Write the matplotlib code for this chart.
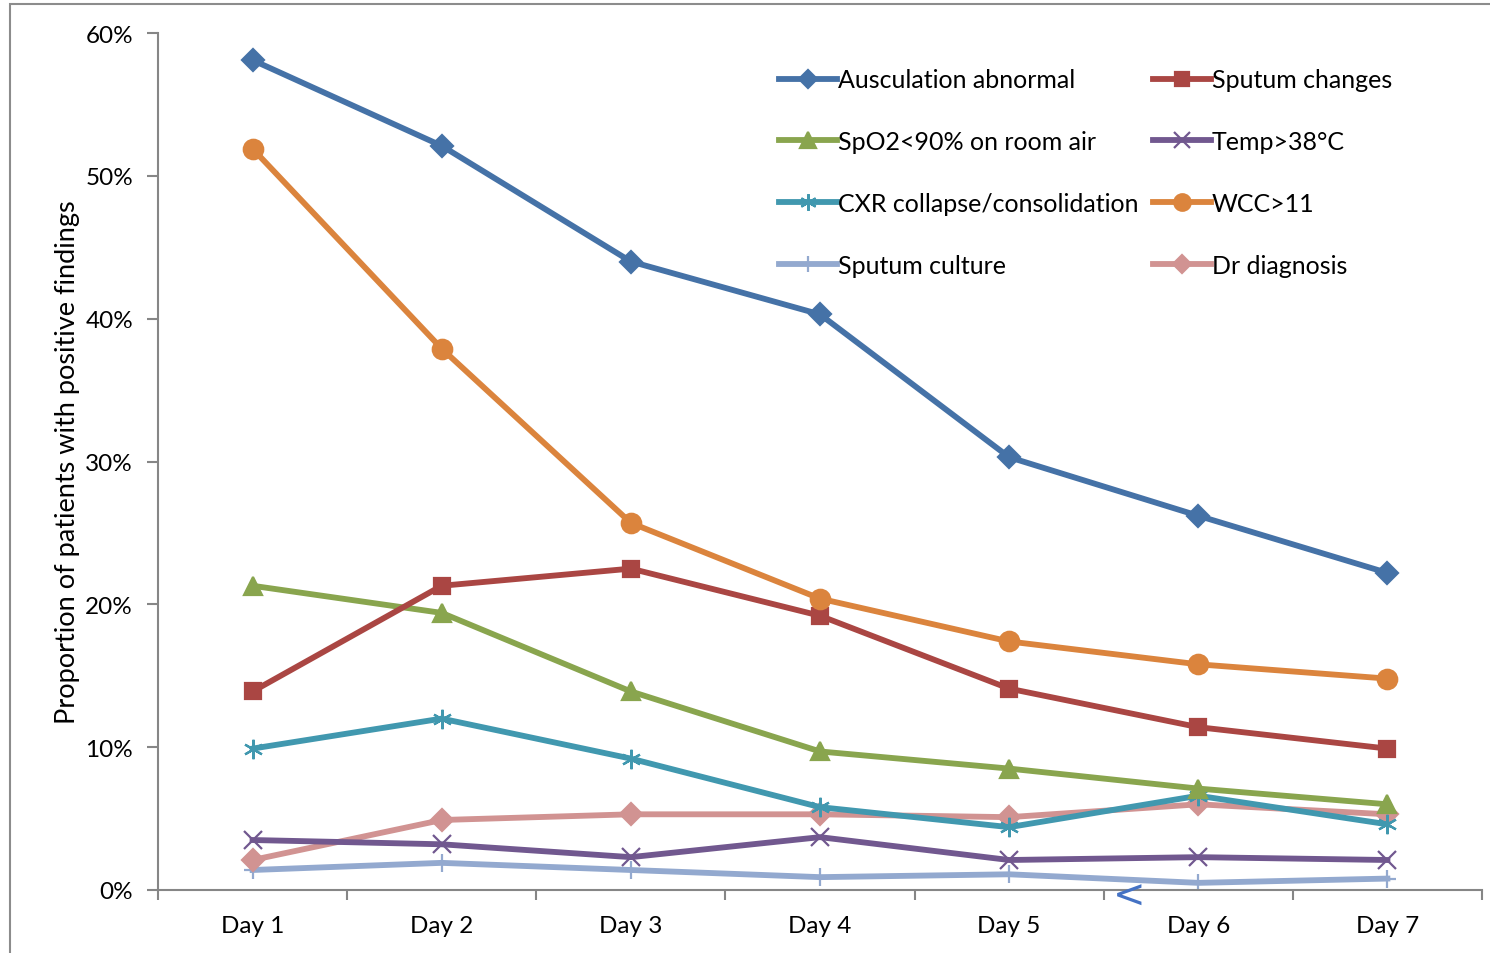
import matplotlib.pyplot as plt
from matplotlib.patches import Rectangle
from matplotlib.ticker import FixedLocator, PercentFormatter

plt.rcParams['font.family'] = ['Lato', 'DejaVu Sans']

days = ['Day 1', 'Day 2', 'Day 3', 'Day 4', 'Day 5', 'Day 6', 'Day 7']

ausculation = [58.1, 52.1, 44.0, 40.3, 30.3, 26.2, 22.2]
sputum_changes = [13.9, 21.3, 22.5, 19.2, 14.1, 11.4, 9.9]
spo2 = [21.3, 19.4, 13.9, 9.7, 8.5, 7.1, 6.0]
temp = [3.5, 3.2, 2.3, 3.7, 2.1, 2.3, 2.1]
cxr = [9.9, 12.0, 9.2, 5.8, 4.4, 6.6, 4.6]
wcc = [51.9, 37.9, 25.7, 20.4, 17.4, 15.8, 14.8]
sputum_culture = [1.4, 1.9, 1.4, 0.9, 1.1, 0.5, 0.8]
dr_diagnosis = [2.1, 4.9, 5.3, 5.3, 5.1, 6.0, 5.3]

x = list(range(1, len(days) + 1))

fig = plt.figure(figsize=(14.9, 9.54), dpi=100)
ax = fig.add_axes([158 / 1490, 63 / 954, 1324 / 1490, 857 / 954])

lw = 4.2
series = [
    (ausculation, 'Ausculation abnormal', '#4572A7', 'D', 11),
    (spo2, 'SpO2<90% on room air', '#89A54E', '^', 13),
    (cxr, 'CXR collapse/consolidation', '#4198AF', (6, 2, 0), 14),
    (sputum_culture, 'Sputum culture', '#93A9CF', '+', 13),
    (sputum_changes, 'Sputum changes', '#AA4643', 's', 12),
    (temp, 'Temp>38°C', '#71588F', 'x', 13.5),
    (wcc, 'WCC>11', '#DB843D', 'o', 14),
    (dr_diagnosis, 'Dr diagnosis', '#D19392', 'D', 11),
]

# draw the thin ones first so the heavy lines sit on top
draw_order = [3, 7, 5, 2, 1, 4, 6, 0]
handles = {}
for i in draw_order:
    vals, label, color, marker, ms = series[i]
    line, = ax.plot(x, vals, color=color, lw=lw, marker=marker, markersize=ms,
                    markeredgewidth=1.6, label=label, solid_joinstyle='round')
    handles[i] = line

ax.set_xlim(0.5, 7.5)
ax.set_ylim(0, 60)
ax.yaxis.set_major_locator(FixedLocator([0, 10, 20, 30, 40, 50, 60]))
ax.yaxis.set_major_formatter(PercentFormatter(decimals=0))
ax.set_xticks(x)
ax.set_xticklabels(days)
ax.xaxis.set_minor_locator(FixedLocator([i + 0.5 for i in range(0, 8)]))

for side in ['top', 'right']:
    ax.spines[side].set_visible(False)
for side in ['left', 'bottom']:
    ax.spines[side].set_color('#868686')
    ax.spines[side].set_linewidth(1.5)

ax.tick_params(axis='y', direction='out', length=8, width=1.5, color='#868686',
               labelsize=17.5, pad=10)
ax.tick_params(axis='x', which='major', length=0, labelsize=17.5, pad=18)
ax.tick_params(axis='x', which='minor', direction='out', length=7, width=1.5,
               color='#868686')

ax.set_ylabel('Proportion of patients with positive findings', fontsize=19.5,
              labelpad=4)

leg = ax.legend([handles[i] for i in range(8)], [s[1] for s in series],
                ncol=2, loc='upper left', bbox_to_anchor=(0.454, 0.982),
                frameon=False, fontsize=18, handlelength=2.3,
                handletextpad=0.05, labelspacing=1.55, columnspacing=0.6,
                markerscale=0.85, borderpad=0.3)

# outer chart border (only left and top edges fall inside the image)
fig.add_artist(Rectangle((10 / 1490, -0.1), 2, (954 - 5) / 954 + 0.1,
                         transform=fig.transFigure, fill=False,
                         edgecolor='#8c8c8c', lw=1.5))

fig.text(1129 / 1490, 1 - 897 / 954, '<', color='#4472C4', fontsize=28,
         ha='center', va='center', family='DejaVu Sans')

fig.savefig('out.png', dpi=100)
